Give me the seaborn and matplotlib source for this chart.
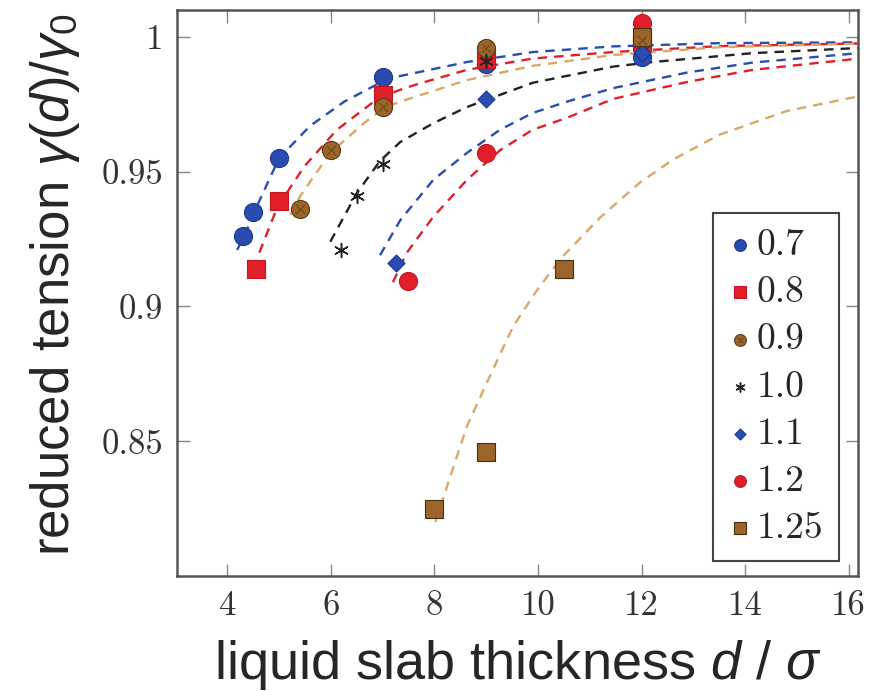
import matplotlib
matplotlib.use("Agg")
import matplotlib.pyplot as plt
import seaborn as sns
from matplotlib.legend_handler import HandlerTuple

sns.set_theme(style="white")
plt.rcParams["font.family"] = "sans-serif"
plt.rcParams["font.sans-serif"] = ["Liberation Sans Narrow", "Liberation Sans", "DejaVu Sans"]
plt.rcParams["mathtext.fontset"] = "custom"
plt.rcParams["mathtext.rm"] = "sans"
plt.rcParams["mathtext.it"] = "sans:italic"

# ---------------- data ----------------
series_names = ["0.7", "0.8", "0.9", "1.0", "1.1", "1.2", "1.25"]

d_07 = [4.3, 4.5, 5.0, 7.0, 9.0, 12.0]
g_07 = [0.926, 0.935, 0.955, 0.985, 0.990, 0.9925]
d_08 = [4.55, 5.0, 7.0, 9.0, 12.0]
g_08 = [0.914, 0.939, 0.9785, 0.992, 0.998]
d_09 = [5.4, 6.0, 7.0, 9.0, 12.0]
g_09 = [0.936, 0.958, 0.974, 0.996, 0.999]
d_10 = [6.2, 6.5, 7.0, 9.0, 12.0]
g_10 = [0.921, 0.941, 0.953, 0.991, 0.996]
d_11 = [7.25, 9.0, 12.0]
g_11 = [0.916, 0.977, 0.994]
d_12 = [7.5, 9.0, 12.0]
g_12 = [0.9095, 0.957, 1.005]
d_125 = [8.0, 9.0, 10.5, 12.0]
g_125 = [0.825, 0.846, 0.914, 1.000]

# fitted curves
fx_07 = [4.19, 4.33, 4.52, 5.0, 5.6, 6.26, 7.0, 7.34, 8.63, 9.9, 11.45, 13.5, 16.2]
fy_07 = [0.921, 0.926, 0.935, 0.955, 0.967, 0.976, 0.9835, 0.9855, 0.9907, 0.9944, 0.9965, 0.9977, 0.998]
fx_08 = [4.62, 4.97, 5.49, 6.12, 6.9, 7.34, 7.67, 8.63, 9.9, 11.45, 13.5, 16.2]
fy_08 = [0.920, 0.937, 0.952, 0.9656, 0.977, 0.9804, 0.9825, 0.9878, 0.992, 0.9944, 0.9966, 0.9976]
fx_09 = [5.22, 5.41, 5.99, 6.64, 7.03, 7.34, 8.63, 9.9, 11.45, 13.5, 16.2]
fy_09 = [0.934, 0.941, 0.957, 0.968, 0.9737, 0.976, 0.984, 0.9893, 0.9933, 0.9962, 0.9975]
fx_10 = [5.99, 6.5, 6.95, 7.34, 7.98, 8.63, 9.9, 11.45, 12.22, 14.15, 16.2]
fy_10 = [0.924, 0.942, 0.954, 0.961, 0.968, 0.974, 0.983, 0.989, 0.9907, 0.994, 0.9959]
fx_11 = [6.95, 7.34, 7.98, 8.63, 9.27, 9.9, 10.56, 11.45, 12.88, 14.15, 16.2]
fy_11 = [0.919, 0.932, 0.947, 0.957, 0.9656, 0.9718, 0.976, 0.981, 0.9868, 0.9905, 0.994]
fx_12 = [7.2, 7.47, 7.98, 8.63, 9.27, 9.9, 10.56, 11.45, 12.88, 14.15, 16.2]
fy_12 = [0.909, 0.920, 0.9333, 0.947, 0.958, 0.9656, 0.970, 0.977, 0.9833, 0.9878, 0.992]
fx_125 = [8.02, 8.17, 8.63, 9.02, 9.52, 9.98, 10.45, 11.2, 11.97, 12.6, 13.5, 14.8, 16.2]
fy_125 = [0.82, 0.829, 0.8556, 0.872, 0.8926, 0.906, 0.918, 0.933, 0.946, 0.9544, 0.9637, 0.9725, 0.978]

xticks = [4, 6, 8, 10, 12, 14, 16]
xtick_labels = ["4", "6", "8", "10", "12", "14", "16"]
yticks = [0.85, 0.9, 0.95, 1.0]
ytick_labels = ["0.85", "0.9", "0.95", "1"]

# ---------------- style ----------------
BLUE = "#2a4cb0"
RED = "#e01f2b"
BROWN = "#9a642a"
TAN = "#d9a866"
BLACK = "#222222"

points = [
    (d_07, g_07, "o", BLUE, "#1b3a8c", 170),
    (d_08, g_08, "s", RED, "#c4161f", 160),
    (d_09, g_09, "o", BROWN, "#5a3a14", 170),
    (d_10, g_10, (6, 2, 0), BLACK, BLACK, 100),
    (d_11, g_11, "D", BLUE, "#1b3a8c", 75),
    (d_12, g_12, "o", RED, "#c4161f", 170),
    (d_125, g_125, "s", BROWN, "#4a2e10", 160),
]
curves = [
    (fx_07, fy_07, BLUE),
    (fx_08, fy_08, RED),
    (fx_09, fy_09, TAN),
    (fx_10, fy_10, BLACK),
    (fx_11, fy_11, BLUE),
    (fx_12, fy_12, RED),
    (fx_125, fy_125, TAN),
]

fig = plt.figure(figsize=(8.7, 6.91), dpi=100)
ax = fig.add_axes([177 / 870, 1 - 576 / 691, (858 - 177) / 870, (576 - 10) / 691])

for fx, fy, c in curves:
    sns.lineplot(x=fx, y=fy, ax=ax, color=c, lw=1.7, linestyle=(0, (4, 3)),
                 legend=False, zorder=2)

handles = []
for (dx, gy, mk, fc, ec, s), name in zip(points, series_names):
    if isinstance(mk, tuple):
        sns.scatterplot(x=dx, y=gy, ax=ax, marker=mk, color=fc, s=s,
                        linewidth=1.1, zorder=3)
    else:
        sns.scatterplot(x=dx, y=gy, ax=ax, marker=mk, color=fc, s=s,
                        edgecolor=ec, linewidth=0.8, zorder=3)
    h = ax.collections[-1]
    if name == "0.9":
        sns.scatterplot(x=dx, y=gy, ax=ax, marker="x", color="#6b4518", s=40,
                        linewidth=0.7, zorder=4)
        h = (h, ax.collections[-1])
    handles.append(h)

ax.set_xlim(3.03, 16.18)
ax.set_ylim(0.80, 1.01)
ax.set_xticks(xticks)
ax.set_xticklabels(xtick_labels, fontfamily="cmr10", fontsize=25, color="#333333")
ax.set_yticks(yticks)
ax.set_yticklabels(ytick_labels, fontfamily="cmr10", fontsize=25, color="#333333")
ax.tick_params(direction="in", length=9, width=1.0, color="#888888",
               top=True, right=True, bottom=True, left=True, pad=10)

for sp in ax.spines.values():
    sp.set_color("#555555")
    sp.set_linewidth(1.8)

ax.set_xlabel(r"liquid slab thickness $d$ / $\sigma$", fontsize=39, labelpad=12)
ax.set_ylabel(r"reduced tension $\gamma(d)/\gamma_0$", fontsize=38)
ax.yaxis.set_label_coords(-0.14, 0.515)

leg = ax.legend(handles, series_names, loc="upper left",
                bbox_to_anchor=(0.787, 0.641), prop={"family": "cmr10", "size": 27},
                handler_map={tuple: HandlerTuple(ndivide=1, pad=0)},
                markerscale=0.65, handlelength=0.6, handletextpad=0.15,
                labelspacing=0.37, borderpad=0.42, borderaxespad=0,
                frameon=True, fancybox=False, framealpha=1, edgecolor="#444444")
leg.get_frame().set_linewidth(1.5)

fig.savefig("out.png", dpi=100)
